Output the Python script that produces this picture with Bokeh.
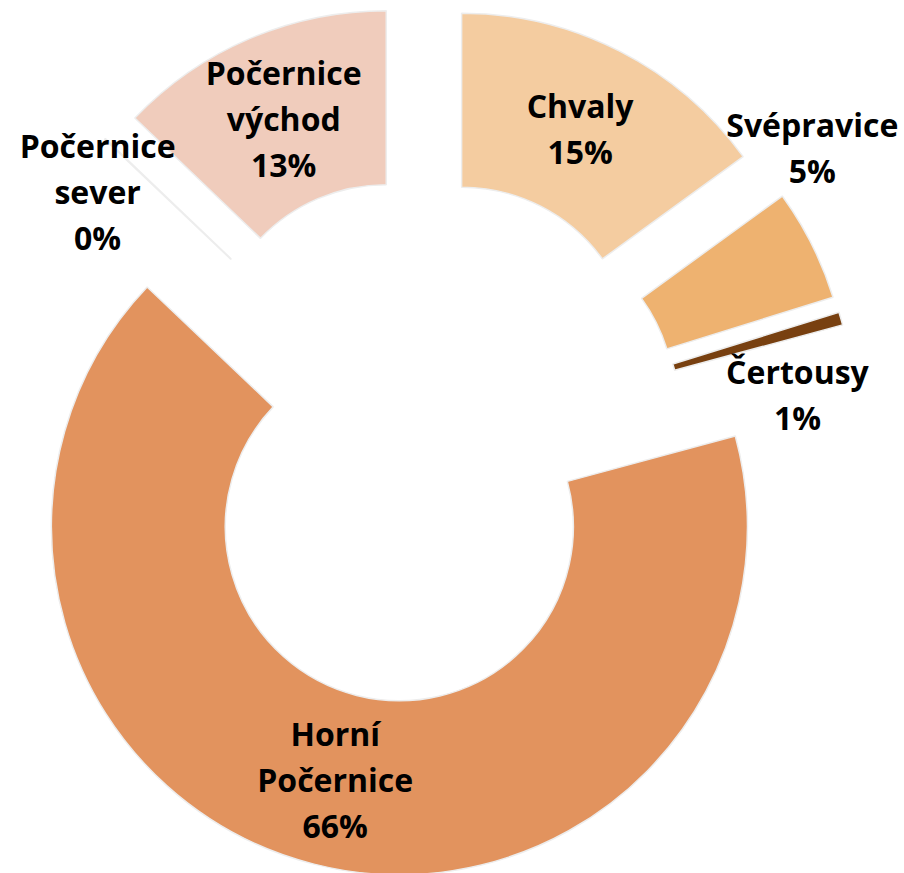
import numpy as np
from bokeh.plotting import figure
from bokeh.models import Range1d, ColumnDataSource
from bokeh.core.properties import value
from bokeh.embed import file_html
from bokeh.resources import INLINE

# ---- data (clockwise from 12 o'clock) ----
categories = ["Chvaly", "Svépravice", "Čertousy", "Horní Počernice", "Počernice sever", "Počernice východ"]
label_names = ["Chvaly", "Svépravice", "Čertousy", "Horní\nPočernice", "Počernice\nsever", "Počernice\nvýchod"]
shares = [15.0, 5.2, 0.6, 66.3, 0.05, 12.85]
colors = ["#F4CCA0", "#EEB270", "#784010", "#E2935E", "#FFFFFF", "#F0CCBC"]

# ---- layout / style ----
W, H = 904, 873
CX, CY = 420.7, -440.0        # donut centre (data units == pixels)
R_OUT, R_IN = 348.0, 174.0
EXPLODE = 89.0
FONT = "Open Sans"
FONT_SIZE = "32px"
# labels placed outside the ring (angle clockwise from top in degrees, distance from centre)
outside_labels = {1: (53.2, 488.5), 2: (83.1, 379.0), 4: (307.6, 408.4)}

total = float(sum(shares))
edges = np.concatenate([[0.0], np.cumsum(shares)]) / total * 360.0
th_start, th_end = edges[:-1], edges[1:]
th_mid = (th_start + th_end) / 2.0

cx = CX + EXPLODE * np.sin(np.radians(th_mid))
cy = CY + EXPLODE * np.cos(np.radians(th_mid))

src = ColumnDataSource(dict(
    x=cx, y=cy,
    start=np.radians(90.0 - th_end),
    end=np.radians(90.0 - th_start),
    color=colors,
))

p = figure(width=W, height=H, output_backend="svg", toolbar_location=None,
           x_range=Range1d(0, W), y_range=Range1d(-H, 0),
           min_border=0)
p.axis.visible = False
p.grid.visible = False
p.outline_line_color = None
p.background_fill_color = "white"

p.annular_wedge(x="x", y="y", inner_radius=R_IN, outer_radius=R_OUT,
                start_angle="start", end_angle="end", direction="anticlock",
                fill_color="color", line_color="#EDEDED", line_width=1.5, source=src)

lx, ly, texts = [], [], []
mid_r = (R_IN + R_OUT) / 2.0
for i, name in enumerate(label_names):
    pct = f"{int(round(shares[i] / total * 100))}%"
    if i in outside_labels:
        ang, dist = outside_labels[i]
        x = CX + dist * np.sin(np.radians(ang))
        y = CY + dist * np.cos(np.radians(ang))
    else:
        x = cx[i] + mid_r * np.sin(np.radians(th_mid[i]))
        y = cy[i] + mid_r * np.cos(np.radians(th_mid[i]))
    lx.append(x)
    ly.append(y)
    texts.append(name + "\n" + pct)

p.text(x=lx, y=ly, text=texts, text_align="center", text_baseline="middle",
       text_font=value(FONT), text_font_style="bold", text_font_size=FONT_SIZE,
       text_line_height=1.07, text_color="black")

open("out.html", "w").write(file_html(p, INLINE))
